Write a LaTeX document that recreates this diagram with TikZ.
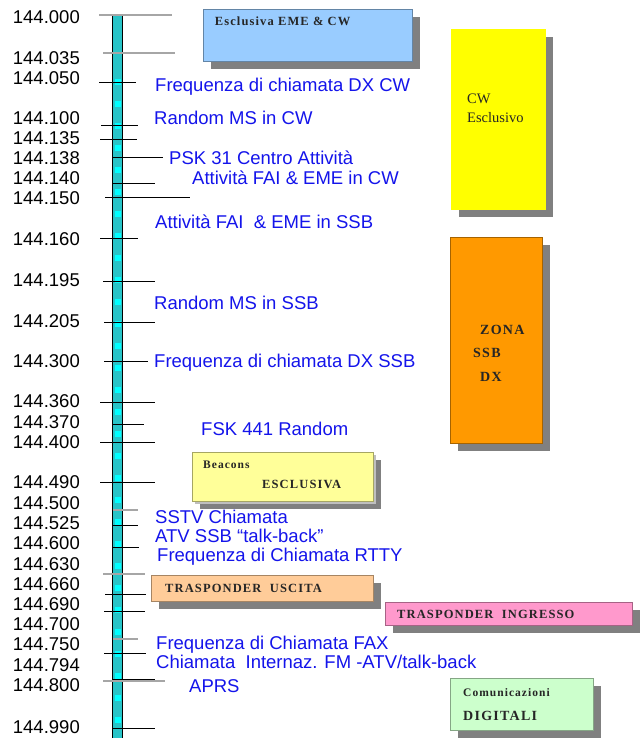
\documentclass[tikz,border=0pt]{standalone}
\usepackage{fontspec}
\setmainfont{Liberation Sans}
\newfontfamily\boxfont{Liberation Serif}
\newfontfamily\boxfontlarga[LetterSpace=9]{Liberation Serif}
\usetikzlibrary{shadows}
\definecolor{barra}{RGB}{40,196,200}
\definecolor{barraluce}{RGB}{0,255,255}
\definecolor{uso}{RGB}{20,20,235}
\definecolor{emeblu}{RGB}{153,204,255}
\definecolor{cwgiallo}{RGB}{255,255,0}
\definecolor{ssbarancio}{RGB}{255,153,0}
\definecolor{beacon}{RGB}{255,255,153}
\definecolor{uscita}{RGB}{255,204,153}
\definecolor{ingresso}{RGB}{255,153,204}
\definecolor{digitale}{RGB}{204,255,204}
\tikzset{
  freq/.style={anchor=base east, inner sep=0pt, yshift=-6.6pt,
               font=\fontsize{18.5}{20}\selectfont},
  usolbl/.style={anchor=base west, inner sep=0pt, yshift=-6.6pt, text=uso,
               font=\fontsize{18.5}{20}\selectfont},
  zona/.style={rectangle, fill=#1, draw=#1!65!black, line width=0.8pt,
               inner sep=0pt,
               drop shadow={shadow xshift=8pt, shadow yshift=-8pt,
                            fill=black!50, opacity=1}},
  zonalbl/.style={anchor=base west, inner sep=0pt, text=black!85,
               font=\boxfontlarga\bfseries\fontsize{12.5}{14}\selectfont},
  tacca/.style={line width=0.9pt},
  taccagrigia/.style={line width=1.2pt, black!35}
}
\begin{document}
\begin{tikzpicture}[x=1pt, y=-1pt]
  \useasboundingbox[fill=white] (0,0) rectangle (640,738);
  % barra di frequenza
  \fill[barra] (112,15) rectangle (123,738);
  \draw[barraluce, line width=6pt, dash pattern=on 6pt off 16pt] (117.5,79) -- (117.5,738);
  \draw[line width=0.9pt] (112,15) -- (112,738) (122.5,15) -- (122.5,738);
  \foreach \y/\a/\b in {15/99/172, 53/103/175, 510/113/138, 574/103/145,
                        639/113/138, 681/103/165}
    \draw[taccagrigia] (\a,\y) -- (\b,\y);
  \foreach \y/\a/\b in {82/99/136, 125/101/138, 139/100/137, 157/112/163,
                        183/113/155, 197/105/190, 238/100/138, 281/103/155,
                        322/104/155, 361/104/148, 402/100/155, 424/113/144,
                        442/100/155, 482/100/155, 525/113/138, 547/113/139,
                        594/105/146, 611/104/145, 653/104/146, 679/113/155,
                        728/113/155}
    \draw[tacca] (\a,\y) -- (\b,\y);
  % frequenze
  \foreach \y/\f [count=\i] in {17/144.000, 58/144.035, 78/144.050, 118/144.100,
      138/144.135, 158/144.138, 178/144.140, 198/144.150, 239/144.160,
      280/144.195, 321/144.205, 361/144.300, 401/144.360, 422/144.370,
      442/144.400, 482/144.490, 503/144.500, 523/144.525, 543/144.600,
      564/144.630, 584/144.660, 604/144.690, 624/144.700, 644/144.750,
      665/144.794, 685/144.800, 727/144.990}
    \node[freq] (f\i) at (80,\y) {\f};
  % utilizzi
  \node[usolbl] (dxcw)   at (155,85)  {Frequenza di chiamata DX CW};
  \node[usolbl] (mscw)   at (154,118) {Random MS in CW};
  \node[usolbl] (psk)    at (169,158) {PSK 31 Centro Attività};
  \node[usolbl] (faicw)  at (192,178) {Attività FAI \& EME in CW};
  \node[usolbl] (faissb) at (155,222) {Attività FAI\ \ \& EME in SSB};
  \node[usolbl] (msssb)  at (154,303) {Random MS in SSB};
  \node[usolbl] (dxssb)  at (154,361) {Frequenza di chiamata DX SSB};
  \node[usolbl] (fsk)    at (201,429) {FSK 441 Random};
  \node[usolbl] (sstv)   at (155,517) {SSTV Chiamata};
  \node[usolbl] (atv)    at (155,536) {ATV SSB “talk-back”};
  \node[usolbl] (rtty)   at (157,555) {Frequenza di Chiamata RTTY};
  \node[usolbl] (fax)    at (156,643) {Frequenza di Chiamata FAX};
  \node[usolbl] (fm)     at (156,662) {Chiamata\ \ Internaz. FM -ATV/talk-back};
  \node[usolbl] (aprs)   at (189,686) {APRS};
  % zone
  \node[zona=emeblu, minimum width=209pt, minimum height=52pt] (eme) at (307.5,35) {};
  \node[zonalbl] (emelbl) at ([shift={(12,17)}]eme.north west) {Esclusiva EME \& CW};
  \node[zona=cwgiallo, draw=cwgiallo, minimum width=94pt, minimum height=180pt] (cwex) at (498,119) {};
  \node[zonalbl, font=\boxfont\fontsize{14.5}{16}\selectfont] (cwlbl1) at (467,104) {CW};
  \node[zonalbl, font=\boxfont\fontsize{14.5}{16}\selectfont] (cwlbl2) at (467,123) {Esclusivo};
  \node[zona=ssbarancio, minimum width=92pt, minimum height=206pt] (ssbdx) at (496,340) {};
  \node[zonalbl, font=\boxfontlarga\bfseries\fontsize{14}{16}\selectfont] (ssblbl1) at (480,334) {ZONA};
  \node[zonalbl, font=\boxfontlarga\bfseries\fontsize{14}{16}\selectfont] (ssblbl2) at (473,357) {SSB};
  \node[zonalbl, font=\boxfontlarga\bfseries\fontsize{14}{16}\selectfont] (ssblbl3) at (480,381) {DX};
  \node[zona=beacon, drop shadow={shadow xshift=3pt, shadow yshift=-3pt, fill=black!25, opacity=1},
        minimum width=181pt, minimum height=49pt] (bcn) at (282.5,476.5) {};
  \node[zonalbl, font=\boxfontlarga\bfseries\fontsize{11.5}{12}\selectfont] (bcnlbl1) at (203,468) {Beacons};
  \node[zonalbl] (bcnlbl2) at (262,488) {ESCLUSIVA};
  \node[zona=uscita, minimum width=222pt, minimum height=26pt] (usc) at (262,588) {};
  \node[zonalbl] (usclbl) at (165,592.5) {TRASPONDER\ \ USCITA};
  \node[zona=ingresso, minimum width=247pt, minimum height=23pt] (ingr) at (508.5,613.5) {};
  \node[zonalbl] (ingrlbl) at (397,618.5) {TRASPONDER\ \ INGRESSO};
  \node[zona=digitale, minimum width=143pt, minimum height=52pt] (dig) at (521.5,704) {};
  \node[zonalbl, font=\boxfontlarga\bfseries\fontsize{11.5}{12}\selectfont] (diglbl1) at (463,696) {Comunicazioni};
  \node[zonalbl, font=\boxfontlarga\bfseries\fontsize{14}{16}\selectfont] (diglbl2) at (463,720) {DIGITALI};
\end{tikzpicture}
\end{document}
